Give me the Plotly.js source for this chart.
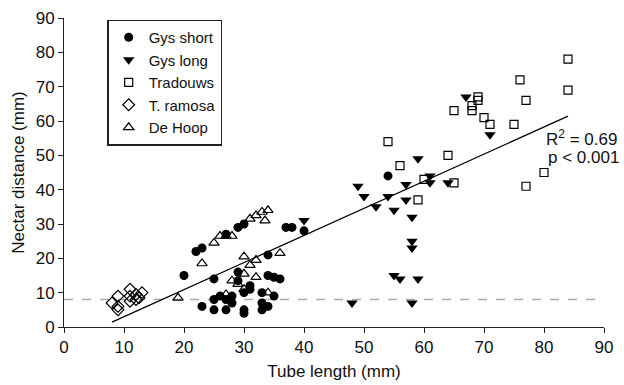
<!DOCTYPE html>
<html><head><meta charset="utf-8">
<script src="https://cdn.plot.ly/plotly-3.0.1.min.js"></script>
<style>html,body{margin:0;padding:0;background:#fff}#chart{width:624px;height:385px}</style>
</head><body><div id="chart"></div>
<script>
const gysShortX = [20,22,23,23,25,25,25,26,27,27,27,28,28,29,29,29,30,30,30,30,31,31,33,33,33,34,34,34,35,35,36,37,38,40,54];
const gysShortY = [15,22,23,6,14,8,5,9,27,8,5,9,7,16,13.5,29,30,10,5,4,12,11,10,7,5,21,15,6,14.5,9,14,29,29,28,44];
const gysLongX = [40,48,49,50,52,54,55,55,56,57,57,58,58,58,58,59,59,61,61,64,67,71];
const gysLongY = [31,7,41,38,35,38,34,15,14,41.5,37,32,25,23,7,49,14,44,42,42,67,56];
const tradX = [54,56,59,60,64,65,65,68,68,69,69,70,71,75,76,77,77,80,84,84];
const tradY = [54,47,37,43,50,42,63,63,64.5,67,66,61,59,59,72,66,41,45,78,69];
const ramosaX = [8,9,9,9,11,11,11,12,12,12.5,13];
const ramosaY = [7,9,6,5,11,9,7.5,9.5,8,8.5,10];
const deHoopX = [19,23,25,26,27,28,28,29,30,30,30,31,31,32,32,32,33,33.5,34,34,36,27];
const deHoopY = [8.5,18.5,24.5,26.5,26.5,26.5,13.5,12.5,20.5,15.5,11,18,31.5,19.5,32.5,14.5,33.5,31,34,10,21.5,9.5];
const fitX = [8,84];
const fitY = [1.4,61.4];
const refX = [0,90];
const refY = [8,8];
const seriesNames = ["Gys short","Gys long","Tradouws","T. ramosa","De Hoop"];
const statsText = ["R<sup>2</sup> = 0.69","p < 0.001"];

const F = "Liberation Sans, Arial, sans-serif";
const data = [
  {x: refX, y: refY, mode:'lines', line:{color:'#aaaaaa', width:1.5, dash:'dash'}, showlegend:false, hoverinfo:'skip'},
  {x: fitX, y: fitY, mode:'lines', line:{color:'#000', width:1.3}, showlegend:false, hoverinfo:'skip'},
  {x: gysShortX, y: gysShortY, mode:'markers', name: seriesNames[0], marker:{symbol:'circle', size:9, color:'#000'}},
  {x: gysLongX, y: gysLongY, mode:'markers', name: seriesNames[1], marker:{symbol:'triangle-down', size:10, color:'#000'}},
  {x: tradX, y: tradY, mode:'markers', name: seriesNames[2], marker:{symbol:'square-open', size:8, color:'#000', line:{width:1.2}}},
  {x: ramosaX, y: ramosaY, mode:'markers', name: seriesNames[3], marker:{symbol:'diamond-open', size:9, color:'#000', line:{width:1.2}}},
  {x: deHoopX, y: deHoopY, mode:'markers', name: seriesNames[4], marker:{symbol:'triangle-up-open', size:9, color:'#000', line:{width:1.2}}}
];
const layout = {
  width:624, height:385,
  margin:{l:64, r:20, t:18, b:58},
  paper_bgcolor:'#fff', plot_bgcolor:'#fff',
  font:{family:F, color:'#111', size:17},
  showlegend:true,
  legend:{x:0.08, y:0.995, xanchor:'left', yanchor:'top', bordercolor:'#222', borderwidth:1.5, bgcolor:'#fff',
          font:{family:F, size:15, color:'#111'}, itemwidth:30, tracegroupgap:0},
  xaxis:{range:[0,90], dtick:10, showgrid:false, zeroline:false, showline:true, linecolor:'#222', linewidth:1,
         ticks:'outside', ticklen:5, tickcolor:'#222', tickfont:{size:17},
         title:{text:'Tube length (mm)', font:{size:17}, standoff:8}},
  yaxis:{range:[0,90], dtick:10, showgrid:false, zeroline:false, showline:true, linecolor:'#222', linewidth:1,
         ticks:'outside', ticklen:5, tickcolor:'#222', tickfont:{size:17},
         title:{text:'Nectar distance (mm)', font:{size:17}, standoff:6}},
  annotations:[
    {x:80, y:55, xref:'x', yref:'y', text:statsText[0], showarrow:false, xanchor:'left', font:{size:17}},
    {x:80.3, y:49.5, xref:'x', yref:'y', text:statsText[1], showarrow:false, xanchor:'left', font:{size:17}}
  ]
};
Plotly.newPlot('chart', data, layout, {displayModeBar:false, staticPlot:true});
</script></body></html>
